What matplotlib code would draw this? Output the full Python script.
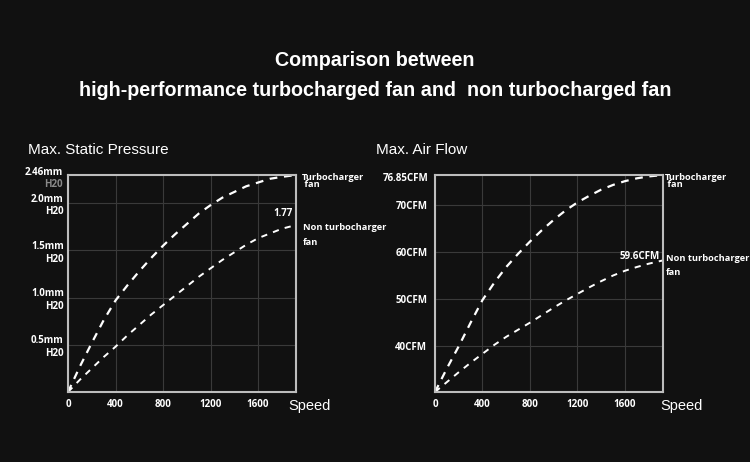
import matplotlib
matplotlib.use("Agg")
import matplotlib.pyplot as plt

# ---- data ----
speed = [0, 100, 200, 300, 400, 500, 600, 700, 800, 900, 1000,
         1100, 1200, 1300, 1400, 1500, 1600, 1700, 1800, 1920]
pressure_turbo = [0.0, 0.27, 0.52, 0.76, 0.97, 1.13, 1.28, 1.42, 1.55, 1.67, 1.78,
                  1.89, 1.98, 2.06, 2.12, 2.18, 2.22, 2.26, 2.28, 2.30]
pressure_non = [0.0, 0.13, 0.25, 0.37, 0.48, 0.60, 0.71, 0.82, 0.92, 1.02, 1.12,
                1.22, 1.31, 1.40, 1.48, 1.56, 1.63, 1.68, 1.73, 1.77]
flow_turbo = [30.3, 35.3, 40.0, 45.0, 49.8, 53.5, 56.8, 59.6, 62.2, 64.6, 66.8,
              68.8, 70.5, 71.9, 73.2, 74.2, 75.0, 75.6, 76.0, 76.3]
flow_non = [30.3, 32.4, 34.5, 36.5, 38.4, 40.3, 42.0, 43.5, 45.0, 46.6, 48.2,
            49.7, 51.1, 52.5, 53.8, 55.0, 56.0, 56.8, 57.5, 58.2]

xticks = [0, 400, 800, 1200, 1600]
p_ticks = [0.5, 1.0, 1.5, 2.0]
p_ticklabels = ["0.5mm\nH20", "1.0mm\nH20", "1.5mm\nH20", "2.0mm\nH20"]
f_ticks = [40, 50, 60, 70]
f_ticklabels = ["40CFM", "50CFM", "60CFM", "70CFM"]

title1 = "Comparison between"
title2 = "high-performance turbocharged fan and  non turbocharged fan"

BG = "#111111"
FG = "#ffffff"
GRID = "#3a3a3a"
EDGE = "#bdbdbd"
TICKFONT = "Open Sans"
HEADFONT = "Liberation Sans"
TW = "bold"
TS = 7.0
AS = 6.7

fig = plt.figure(figsize=(7.5, 4.62), dpi=100, facecolor=BG)

fig.text(0.5, 1 - 60 / 462, title1, ha="center", va="center", color=FG,
         fontsize=14.2, fontweight="bold", family=HEADFONT)
fig.text(0.5, 1 - 91 / 462, title2, ha="center", va="center", color=FG,
         fontsize=14.2, fontweight="bold", family=HEADFONT)
fig.text(28 / 750, 1 - 150 / 462, "Max. Static Pressure", ha="left", va="center",
         color=FG, fontsize=11, family=HEADFONT)
fig.text(376 / 750, 1 - 150 / 462, "Max. Air Flow", ha="left", va="center",
         color=FG, fontsize=11, family=HEADFONT)

ax1 = fig.add_axes([68 / 750, 1 - 392 / 462, 228 / 750, 217 / 462])
ax2 = fig.add_axes([435 / 750, 1 - 392 / 462, 228 / 750, 217 / 462])


def style(ax, ypad, speed_x):
    ax.set_facecolor(BG)
    for s in ax.spines.values():
        s.set_color(EDGE)
        s.set_linewidth(1.5)
    ax.grid(True, color=GRID, linewidth=0.8)
    ax.set_axisbelow(True)
    ax.tick_params(length=0, colors=FG, labelsize=TS)
    ax.tick_params(axis="y", pad=ypad)
    ax.tick_params(axis="x", pad=5)
    ax.set_xlim(0, 1920)
    ax.set_xticks(xticks)
    for lbl in ax.get_xticklabels() + ax.get_yticklabels():
        lbl.set_family(TICKFONT)
        lbl.set_fontweight(TW)
    ax.text(speed_x, -0.065, "Speed", transform=ax.transAxes, ha="center", va="center",
            color=FG, fontsize=10.5, family=HEADFONT)


# ---- left: static pressure ----
ax1.plot(speed, pressure_turbo, color=FG, lw=1.6, dashes=(3.5, 3), clip_on=False)
ax1.plot(speed, pressure_non, color=FG, lw=1.4, dashes=(3.2, 3.2), clip_on=False)
ax1.set_ylim(0, pressure_turbo[-1])
ax1.set_yticks(p_ticks)
ax1.set_yticklabels(p_ticklabels)
style(ax1, 3.0, 1.06)
ax1.text(-0.022, 1.01, "2.46mm", transform=ax1.transAxes, ha="right", va="center",
         color=FG, fontsize=TS, fontweight=TW, family=TICKFONT)
ax1.text(-0.022, 0.958, "H20", transform=ax1.transAxes, ha="right", va="center",
         color="#8a8a8a", fontsize=TS, fontweight=TW, family=TICKFONT)
ax1.text(1.025, 1.01, "Turbocharger\n fan", transform=ax1.transAxes, ha="left",
         va="top", color=FG, fontsize=AS, fontweight=TW, family=TICKFONT,
         linespacing=0.8)
ax1.text(0.985, 0.823, "1.77", transform=ax1.transAxes, ha="right", va="center",
         color=FG, fontsize=TS, fontweight=TW, family=TICKFONT)
ax1.text(1.03, 0.757, "Non turbocharger", transform=ax1.transAxes, ha="left",
         va="center", color=FG, fontsize=AS, fontweight=TW, family=TICKFONT)
ax1.text(1.03, 0.688, "fan", transform=ax1.transAxes, ha="left",
         va="center", color=FG, fontsize=AS, fontweight=TW, family=TICKFONT)

# ---- right: air flow ----
ax2.plot(speed, flow_turbo, color=FG, lw=1.6, dashes=(3.5, 3), clip_on=False)
ax2.plot(speed, flow_non, color=FG, lw=1.4, dashes=(3.2, 3.2), clip_on=False)
ax2.set_ylim(flow_turbo[0], flow_turbo[-1])
ax2.set_yticks(f_ticks)
ax2.set_yticklabels(f_ticklabels)
style(ax2, 5.5, 1.08)
ax2.text(-0.03, 0.985, "76.85CFM", transform=ax2.transAxes, ha="right", va="center",
         color=FG, fontsize=TS, fontweight=TW, family=TICKFONT)
ax2.text(1.01, 1.01, "Turbocharger\n fan", transform=ax2.transAxes, ha="left",
         va="top", color=FG, fontsize=AS, fontweight=TW, family=TICKFONT,
         linespacing=0.8)
ax2.text(0.985, 0.625, "59.6CFM", transform=ax2.transAxes, ha="right", va="center",
         color=FG, fontsize=TS, fontweight=TW, family=TICKFONT)
ax2.text(1.013, 0.617, "Non turbocharger", transform=ax2.transAxes, ha="left",
         va="center", color=FG, fontsize=AS, fontweight=TW, family=TICKFONT)
ax2.text(1.013, 0.55, "fan", transform=ax2.transAxes, ha="left",
         va="center", color=FG, fontsize=AS, fontweight=TW, family=TICKFONT)

fig.savefig("out.png", dpi=100, facecolor=BG)
